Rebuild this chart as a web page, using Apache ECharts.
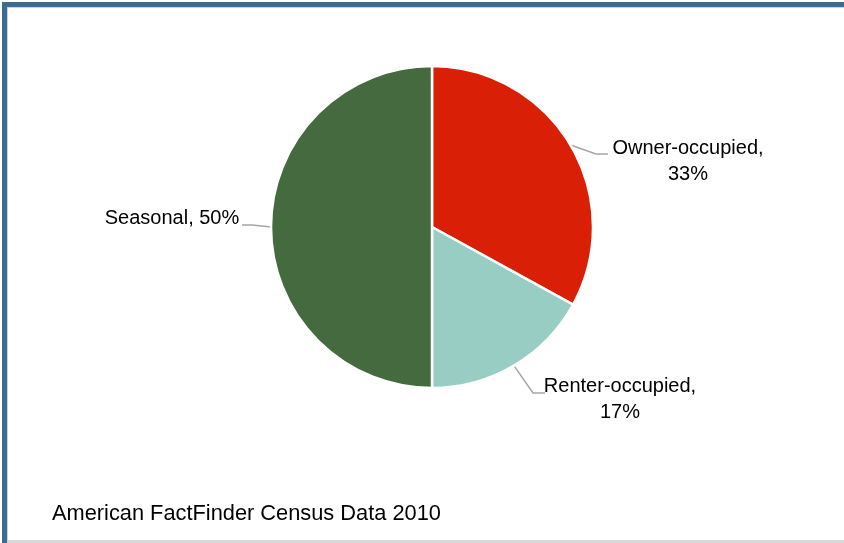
<!DOCTYPE html>
<html>
<head>
<meta charset="utf-8">
<script src="https://cdn.jsdelivr.net/npm/echarts@6/dist/echarts.min.js"></script>
<style>
  html, body { margin: 0; padding: 0; background: #ffffff; }
  #wrap { position: relative; width: 844px; height: 543px; overflow: hidden; }
  #chart { position: absolute; left: 0; top: 0; width: 844px; height: 543px; }
  #frameTop { position: absolute; left: 2px; top: 2px; width: 860px; height: 5px; background: #3d6a8d; }
  #frameTopIn { position: absolute; left: 7px; top: 7px; width: 860px; height: 1px; background: #c9d3dc; }
  #frameLeft { position: absolute; left: 2px; top: 2px; width: 5px; height: 560px; background: #3d6a8d; }
  #frameLeftIn { position: absolute; left: 7px; top: 7px; width: 1px; height: 560px; background: #c9d3dc; }
  #frameBottom { position: absolute; left: 8px; top: 540px; width: 860px; height: 3px; background: #d9d9d9; }
</style>
</head>
<body>
<div id="wrap">
  <div id="chart"></div>
  <div id="frameTop"></div>
  <div id="frameTopIn"></div>
  <div id="frameLeft"></div>
  <div id="frameLeftIn"></div>
  <div id="frameBottom"></div>
</div>
<script>
const categories = ['Owner-occupied', 'Renter-occupied', 'Seasonal'];
const values = [33, 17, 50];
const labelTexts = ['Owner-occupied,\n33%', 'Renter-occupied,\n17%', 'Seasonal, 50%'];
const colors = ['#d91f06', '#98cdc4', '#456a3f'];
const titleText = 'American FactFinder Census Data 2010';

const chart = echarts.init(document.getElementById('chart'), null, { renderer: 'canvas' });

// label anchor geometry (text centre and line bend/end points)
const labelGeom = [
  { x: 688, y: 161, bend: [596, 154], end: [608, 154] },
  { x: 620, y: 399, bend: [533, 393], end: [545, 393] },
  { x: 172, y: 218, bend: [252, 225], end: [242, 225] }
];

const option = {
  animation: false,
  backgroundColor: 'transparent',
  title: {
    text: titleText,
    left: 47,
    top: 498,
    textStyle: { fontFamily: 'Liberation Sans, Arial, sans-serif', fontSize: 21.8, fontWeight: 'normal', color: '#000000' }
  },
  series: [{
    type: 'pie',
    center: [432, 227],
    radius: 161,
    startAngle: 90,
    clockwise: true,
    avoidLabelOverlap: false,
    itemStyle: { borderColor: '#ffffff', borderWidth: 2.5 },
    label: {
      show: true,
      position: 'outside',
      formatter: function (p) { return labelTexts[p.dataIndex]; },
      fontFamily: 'Liberation Sans, Arial, sans-serif',
      fontSize: 20,
      lineHeight: 26,
      color: '#000000',
      align: 'center'
    },
    labelLine: {
      show: true,
      lineStyle: { color: '#a6a6a6', width: 1.5 }
    },
    labelLayout: function (params) {
      const g = labelGeom[params.dataIndex];
      const start = params.labelLinePoints ? params.labelLinePoints[0] : g.bend;
      return {
        x: g.x,
        y: g.y,
        align: 'center',
        verticalAlign: 'middle',
        labelLinePoints: [start, g.bend, g.end]
      };
    },
    emphasis: { disabled: true },
    data: categories.map(function (c, i) {
      return { name: c, value: values[i], itemStyle: { color: colors[i] } };
    })
  }]
};
chart.setOption(option);
</script>
</body>
</html>
